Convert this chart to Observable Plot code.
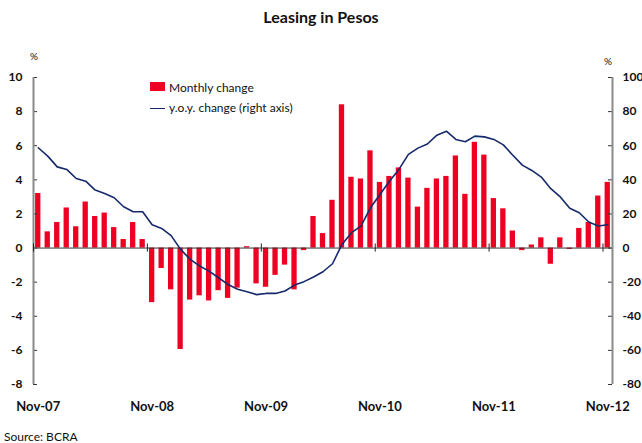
<!DOCTYPE html>
<html>
<head>
<meta charset="utf-8">
<script src="https://cdn.jsdelivr.net/npm/d3@7"></script>
<script src="https://cdn.jsdelivr.net/npm/@observablehq/plot@0.6"></script>
<style>
  body { margin: 0; background: #fff; font-family: Lato, "Open Sans", sans-serif; color: #111; }
  #wrap { position: relative; width: 642px; height: 443px; overflow: hidden; }
  #title { position: absolute; left: 0; width: 642px; top: 8px; line-height: 18px; text-align: center; font-weight: bold; font-size: 16px; }
  #chart { position: absolute; left: 0; top: 30px; }
  #source { position: absolute; left: 4px; top: 430px; line-height: 14px; font-size: 12px; }
  .pct { position: absolute; font-size: 10px; line-height: 12px; width: 20px; text-align: center; }
  .leg { position: absolute; font-size: 12px; line-height: 14px; white-space: nowrap; }
  .sw { position: absolute; }
</style>
</head>
<body>
<div id="wrap">
  <div id="title">Leasing in Pesos</div>
  <div id="chart"></div>
  <div class="pct" style="left:24px; top:50px;">%</div>
  <div class="pct" style="left:598px; top:55px;">%</div>
  <div class="sw" style="left:150px; top:82px; width:15px; height:9px; background:#EE0022;"></div>
  <div class="leg" style="left:169px; top:81px;">Monthly change</div>
  <div class="sw" style="left:150px; top:107.5px; width:15px; height:1.6px; background:#15296B;"></div>
  <div class="leg" style="left:169px; top:101px;">y.o.y. change (right axis)</div>
  <div id="source">Source: BCRA</div>
</div>
<script>
// Monthly change (%), Nov-07 .. Nov-12 (left axis)
const monthlyChange = [
  3.2, 0.95, 1.5, 2.35, 1.25, 2.7, 1.85, 2.05, 1.2, 0.5, 1.5, 0.5,
  -3.2, -1.2, -2.45, -5.95, -3.05, -2.8, -3.1, -2.5, -2.95, -2.35, 0.08, -2.1,
  -2.3, -1.6, -1.0, -2.45, -0.15, 1.85, 0.85, 2.8, 8.4, 4.15, 4.05, 5.7,
  3.85, 4.2, 4.7, 4.1, 2.4, 3.5, 4.05, 4.2, 5.4, 3.15, 6.2, 5.45,
  2.9, 2.3, 1.0, -0.15, 0.18, 0.6, -0.95, 0.6, -0.08, 1.15, 1.5, 3.05,
  3.85
];
// y.o.y. change (%), Nov-07 .. Nov-12 (right axis)
const yoyChange = [
  58.8, 53.9, 47.6, 46.1, 40.8, 39.2, 34.0, 32.0, 29.5, 24.2, 21.3, 21.3,
  13.7, 11.5, 7.3, -0.8, -6.6, -10.5, -13.5, -17.4, -21.4, -24.2, -25.6, -27.3,
  -26.6, -26.6, -25.2, -21.7, -19.7, -17.0, -13.9, -9.2, 2.1, 9.0, 12.9, 23.6,
  31.4, 39.2, 46.1, 54.9, 58.6, 61.0, 66.2, 68.5, 63.7, 62.3, 65.6, 65.2,
  63.7, 60.5, 54.4, 48.6, 45.5, 41.6, 34.8, 30.0, 23.3, 20.7, 15.3, 12.9,
  13.7
];
const xTickLabels = ["Nov-07", "Nov-08", "Nov-09", "Nov-10", "Nov-11", "Nov-12"];
const xTickMonth = [0, 12, 24, 36, 48, 60];
const leftTicks = [-8, -6, -4, -2, 0, 2, 4, 6, 8, 10];
const rightTicks = [-80, -60, -40, -20, 0, 20, 40, 60, 80, 100];

const RED = "#EE0022", NAVY = "#15296B", AXIS = "#8a8a8a";
const bars = monthlyChange.map((v, i) => ({i, v}));
const yoy = yoyChange.map((v, i) => ({i, v}));
const ratio = 10; // right axis = left axis * 10
const W = 642, ML = 33, MR = 30, TICK = 4;
const frameW = W - ML - MR;

const chart = Plot.plot({
  width: W,
  height: 395,
  marginLeft: ML,
  marginRight: MR,
  marginTop: 47,
  marginBottom: 41,
  style: {fontFamily: "Lato, 'Open Sans', sans-serif", fontSize: "12px", color: "#111", background: "#fff"},
  x: {domain: [0, monthlyChange.length], axis: null},
  y: {domain: [leftTicks[0], leftTicks[leftTicks.length - 1]], axis: null},
  marks: [
    Plot.rect(bars, {x1: d => d.i, x2: d => d.i + 1, y1: 0, y2: "v", fill: RED, insetLeft: 2.1, insetRight: 2.1}),
    Plot.ruleY([0], {stroke: "#333", strokeWidth: 1}),
    // inward tick marks on both value axes
    Plot.tickY(leftTicks, {y: d => d, stroke: "#333", insetRight: frameW - TICK}),
    Plot.tickY(rightTicks, {y: d => d / ratio, stroke: "#333", insetLeft: frameW - TICK}),
    Plot.ruleX([0, monthlyChange.length], {y1: leftTicks[0], y2: leftTicks[leftTicks.length - 1], stroke: AXIS, strokeWidth: 2}),
    Plot.ruleX(xTickMonth, {x: d => d, y1: -0.24, y2: 0.24, stroke: "#222", strokeWidth: 1}),
    Plot.line(yoy, {x: d => d.i + 0.5, y: d => d.v / ratio, stroke: NAVY, strokeWidth: 1.6}),
    // axis labels
    Plot.axisY(leftTicks, {anchor: "left", tickSize: 0, tickPadding: 11, tickFormat: d => String(d), fontWeight: "bold", fontSize: 12, label: null}),
    Plot.axisY(rightTicks.map(d => d / ratio), {anchor: "right", tickSize: 0, tickPadding: 10, tickFormat: d => String(Math.round(d * ratio)), fontWeight: "bold", fontSize: 12, label: null}),
    Plot.axisX(xTickMonth.map(m => m + 0.5), {anchor: "bottom", tickSize: 0, tickPadding: 17, tickFormat: d => xTickLabels[xTickMonth.indexOf(Math.round(d - 0.5))], fontWeight: "bold", fontSize: 13, label: null})
  ]
});
document.getElementById("chart").appendChild(chart);
</script>
</body>
</html>
